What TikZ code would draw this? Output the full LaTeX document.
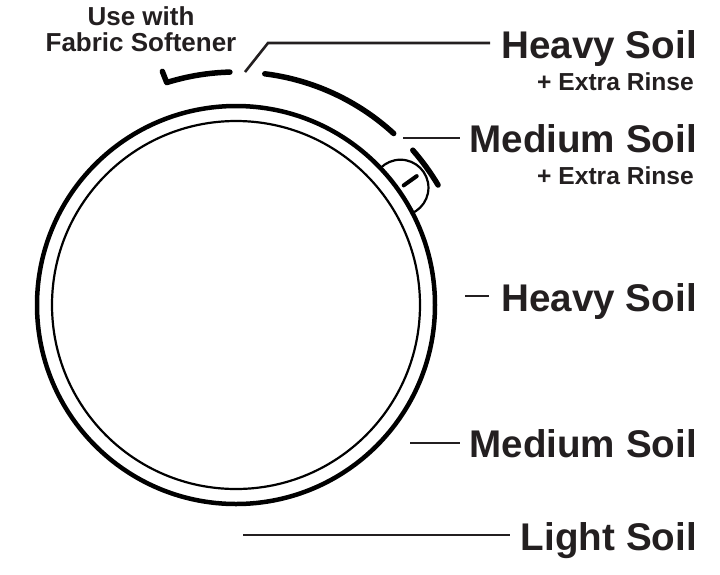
\documentclass[tikz,border=0pt]{standalone}
\usepackage{fontspec}
\setmainfont{Liberation Sans}
\definecolor{ink}{HTML}{231F20}
\begin{document}
\begin{tikzpicture}[x=1pt,y=-1pt,
  big/.style={font=\fontsize{38.6}{40}\selectfont\bfseries, text=ink, inner sep=0pt, anchor=base east},
  small/.style={font=\fontsize{24.6}{26}\selectfont\bfseries, text=ink, inner sep=0pt, anchor=base east},
  lead/.style={draw=ink, line width=2.6pt},
  band/.style={draw=black, line width=5.5pt, line cap=round, line join=round},
  ring/.style={draw=black}]
\useasboundingbox (0,0) rectangle (720,574);
\coordinate (c) at (236,305);
% dial
\draw[ring, line width=4.5pt] (c) circle[radius=199];
\draw[ring, line width=2.2pt] (c) circle[radius=184];
% knob bump
\begin{scope}[even odd rule]
  \clip (0,0) rectangle (720,574) (c) circle[radius=201];
  \draw[ring, line width=2.2pt] ([shift={(-35.5:202)}]c) circle[radius=28];
\end{scope}
\draw[black, line width=4pt, line cap=round] ([shift={(-35.5:206)}]c) -- ([shift={(-35.5:222)}]c);
% bands
\draw[band] ([shift={(-107.5:245)}]c) -- ([shift={(-107.3:233)}]c) arc[start angle=-107.3, end angle=-91.5, radius=233];
\draw[band] ([shift={(-82.9:233)}]c) arc[start angle=-82.9, end angle=-47.4, radius=233];
\draw[band] ([shift={(-41.2:235)}]c) arc[start angle=-41.2, end angle=-30.7, radius=235];
% labels
\node[big] (hs1) at (697,58) {Heavy Soil};
\node[small] (er1) at (694,90) {+ Extra Rinse};
\node[big] (ms1) at (697,152) {Medium Soil};
\node[small] (er2) at (694,184) {+ Extra Rinse};
\node[big] (hs2) at (697,311) {Heavy Soil};
\node[big] (ms2) at (697,457) {Medium Soil};
\node[big] (ls) at (697,550) {Light Soil};
\node[font=\fontsize{26}{26}\selectfont\bfseries, text=ink, align=center, inner sep=0pt, anchor=base] (fs) at (141,51) {Use with\\Fabric Softener};
% leader lines
\coordinate (l1a) at (245,72);
\coordinate (l1b) at (268,43);
\coordinate (l1c) at (490,43);
\draw[lead] (l1a) -- (l1b) -- (l1c);
\coordinate (l2a) at (403,138);
\coordinate (l2b) at (460,138);
\draw[lead] (l2a) -- (l2b);
\coordinate (l3a) at (465,296);
\coordinate (l3b) at (489,296);
\draw[lead, line width=2pt] (l3a) -- (l3b);
\coordinate (l4a) at (410,443);
\coordinate (l4b) at (460,443);
\draw[lead] (l4a) -- (l4b);
\coordinate (l5a) at (243,535);
\coordinate (l5b) at (510,535);
\draw[lead] (l5a) -- (l5b);
\end{tikzpicture}
\end{document}
